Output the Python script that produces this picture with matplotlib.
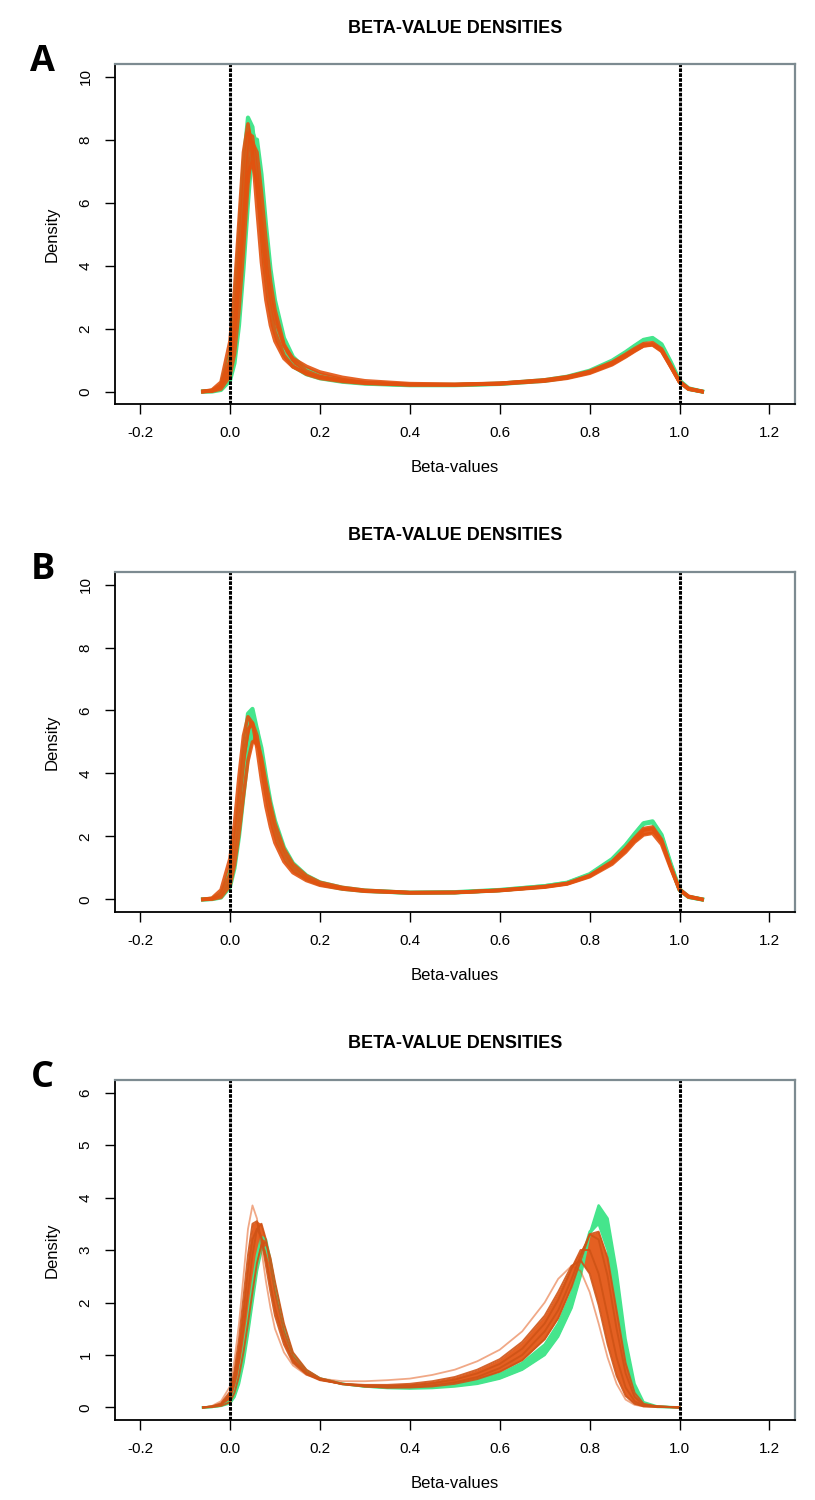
import numpy as np
import matplotlib
matplotlib.use("Agg")
import matplotlib.pyplot as plt

plt.rcParams["font.family"] = ["Liberation Sans", "DejaVu Sans"]

# -------- data --------
x_ab = [-0.06, -0.04, -0.02, 0.0, 0.01, 0.02, 0.03, 0.04, 0.05, 0.06, 0.07, 0.08,
        0.09, 0.10, 0.12, 0.14, 0.17, 0.20, 0.25, 0.30, 0.40, 0.50, 0.60, 0.70,
        0.75, 0.80, 0.85, 0.88, 0.90, 0.92, 0.94, 0.96, 0.98, 1.00, 1.02, 1.05]

# panel A
a_green_1 = [0, 0.02, 0.2, 1.2, 2.6, 4.8, 7.2, 8.7, 8.4, 7.0, 5.3, 3.8, 2.7, 2.0, 1.2, 0.8,
             0.55, 0.42, 0.31, 0.25, 0.2, 0.2, 0.24, 0.34, 0.45, 0.63, 0.95, 1.22, 1.42,
             1.62, 1.68, 1.45, 0.9, 0.32, 0.08, 0]
a_green_2 = [0, 0, 0.05, 0.35, 0.9, 2.1, 3.9, 6.0, 7.8, 8.0, 6.9, 5.3, 3.9, 2.9, 1.7, 1.1,
             0.68, 0.48, 0.34, 0.27, 0.21, 0.21, 0.25, 0.36, 0.47, 0.66, 0.98, 1.25, 1.45,
             1.64, 1.7, 1.5, 0.95, 0.35, 0.1, 0]
a_orange_1 = [0, 0.05, 0.3, 1.6, 3.2, 5.4, 7.6, 8.5, 7.6, 5.8, 4.1, 2.9, 2.1, 1.6, 1.05, 0.78,
              0.58, 0.46, 0.35, 0.28, 0.22, 0.21, 0.24, 0.33, 0.42, 0.58, 0.85, 1.1, 1.28,
              1.45, 1.5, 1.32, 0.85, 0.32, 0.1, 0]
a_orange_2 = [0, 0.02, 0.15, 0.9, 2.0, 4.0, 6.4, 8.2, 8.1, 6.9, 5.2, 3.7, 2.6, 1.9, 1.15, 0.8,
              0.55, 0.42, 0.32, 0.26, 0.21, 0.21, 0.25, 0.35, 0.45, 0.62, 0.9, 1.15, 1.32,
              1.48, 1.5, 1.3, 0.8, 0.3, 0.08, 0]
a_orange_3 = [0, 0.01, 0.08, 0.5, 1.2, 2.6, 4.5, 6.6, 7.9, 7.6, 6.3, 4.8, 3.5, 2.6, 1.5, 1.0,
              0.65, 0.48, 0.35, 0.28, 0.22, 0.22, 0.26, 0.37, 0.47, 0.64, 0.93, 1.18, 1.36,
              1.52, 1.55, 1.35, 0.82, 0.3, 0.08, 0]
a_orange_4 = [0, 0.03, 0.2, 1.0, 2.0, 3.6, 5.4, 6.9, 7.3, 6.6, 5.3, 4.0, 3.0, 2.3, 1.45, 1.05,
              0.8, 0.62, 0.45, 0.34, 0.25, 0.23, 0.26, 0.35, 0.44, 0.6, 0.88, 1.12, 1.3,
              1.45, 1.48, 1.28, 0.8, 0.3, 0.08, 0]

# panel B
b_green_1 = [0, 0.02, 0.18, 0.9, 1.8, 3.2, 4.7, 5.9, 6.05, 5.4, 4.4, 3.5, 2.75, 2.15, 1.4, 0.98,
             0.65, 0.48, 0.34, 0.27, 0.21, 0.23, 0.3, 0.42, 0.52, 0.78, 1.25, 1.7, 2.05,
             2.4, 2.45, 2.0, 1.1, 0.3, 0.08, 0]
b_green_2 = [0, 0.01, 0.06, 0.4, 1.0, 2.0, 3.3, 4.6, 5.4, 5.4, 4.8, 3.9, 3.1, 2.5, 1.65, 1.15,
             0.76, 0.54, 0.37, 0.28, 0.21, 0.22, 0.29, 0.42, 0.53, 0.8, 1.28, 1.72, 2.08,
             2.42, 2.48, 2.05, 1.15, 0.32, 0.08, 0]
b_orange_1 = [0, 0.04, 0.3, 1.3, 2.4, 3.9, 5.2, 5.8, 5.6, 4.8, 3.8, 2.95, 2.3, 1.8, 1.2, 0.85,
              0.6, 0.45, 0.33, 0.26, 0.21, 0.22, 0.29, 0.4, 0.5, 0.74, 1.18, 1.6, 1.92,
              2.2, 2.25, 1.85, 1.05, 0.32, 0.1, 0]
b_orange_2 = [0, 0.02, 0.15, 0.8, 1.7, 3.0, 4.4, 5.4, 5.6, 5.2, 4.3, 3.4, 2.7, 2.1, 1.4, 0.98,
              0.66, 0.48, 0.35, 0.27, 0.21, 0.22, 0.29, 0.41, 0.51, 0.76, 1.2, 1.62, 1.95,
              2.25, 2.3, 1.9, 1.05, 0.3, 0.08, 0]
b_orange_3 = [0, 0.01, 0.07, 0.45, 1.1, 2.1, 3.3, 4.4, 5.0, 5.05, 4.5, 3.7, 3.0, 2.4, 1.6, 1.12,
              0.75, 0.54, 0.38, 0.29, 0.22, 0.22, 0.28, 0.39, 0.49, 0.72, 1.12, 1.5, 1.82,
              2.05, 2.1, 1.75, 1.0, 0.3, 0.08, 0]

# panel C
x_c = [-0.06, -0.04, -0.02, 0.0, 0.01, 0.02, 0.03, 0.04, 0.05, 0.06, 0.07, 0.08, 0.09,
       0.10, 0.12, 0.14, 0.17, 0.20, 0.25, 0.30, 0.35, 0.40, 0.45, 0.50, 0.55, 0.60,
       0.65, 0.70, 0.73, 0.76, 0.78, 0.80, 0.82, 0.84, 0.86, 0.88, 0.90, 0.92, 0.95, 1.0]
c_green_1 = [0, 0.01, 0.03, 0.08, 0.2, 0.45, 0.85, 1.4, 2.0, 2.6, 3.0, 3.05, 2.75, 2.3, 1.5,
             1.0, 0.7, 0.55, 0.45, 0.4, 0.37, 0.36, 0.37, 0.4, 0.45, 0.55, 0.72, 1.0, 1.35,
             1.9, 2.5, 3.3, 3.85, 3.6, 2.6, 1.3, 0.45, 0.1, 0.02, 0]
c_green_2 = [0, 0.01, 0.04, 0.12, 0.3, 0.6, 1.1, 1.7, 2.35, 2.9, 3.25, 3.2, 2.8, 2.3, 1.5,
             1.0, 0.7, 0.55, 0.45, 0.4, 0.38, 0.38, 0.4, 0.44, 0.52, 0.64, 0.85, 1.2, 1.6,
             2.2, 2.75, 3.35, 3.5, 3.0, 2.0, 0.95, 0.3, 0.07, 0.01, 0]
c_orange_light = [0, 0.03, 0.12, 0.4, 0.9, 1.6, 2.5, 3.4, 3.85, 3.6, 3.0, 2.4, 1.9, 1.5, 1.05,
                  0.8, 0.62, 0.55, 0.5, 0.5, 0.52, 0.55, 0.62, 0.72, 0.88, 1.1, 1.45, 2.0,
                  2.45, 2.7, 2.6, 2.2, 1.6, 0.95, 0.45, 0.15, 0.05, 0.02, 0.01, 0]
c_orange_early = [0, 0.02, 0.08, 0.3, 0.7, 1.3, 2.1, 2.9, 3.5, 3.55, 3.2, 2.7, 2.2, 1.75, 1.2,
                  0.85, 0.63, 0.52, 0.45, 0.43, 0.43, 0.45, 0.5, 0.58, 0.72, 0.92, 1.25, 1.75,
                  2.2, 2.7, 2.8, 2.55, 1.95, 1.2, 0.6, 0.22, 0.07, 0.02, 0.01, 0]
c_orange_mid = [0, 0.02, 0.06, 0.25, 0.6, 1.1, 1.8, 2.6, 3.2, 3.4, 3.25, 2.85, 2.35, 1.9, 1.3,
                0.9, 0.65, 0.53, 0.45, 0.42, 0.41, 0.42, 0.46, 0.53, 0.65, 0.83, 1.12, 1.6,
                2.05, 2.65, 3.0, 3.0, 2.55, 1.75, 0.95, 0.38, 0.12, 0.03, 0.02, 0]
c_orange_main_1 = [0, 0.01, 0.05, 0.18, 0.45, 0.9, 1.5, 2.2, 2.9, 3.4, 3.5, 3.2, 2.7, 2.2, 1.45,
                   0.98, 0.68, 0.54, 0.44, 0.4, 0.38, 0.39, 0.42, 0.48, 0.58, 0.75, 1.0, 1.45,
                   1.85, 2.45, 2.9, 3.3, 3.2, 2.5, 1.5, 0.65, 0.2, 0.05, 0.02, 0]
c_orange_main_2 = [0, 0.01, 0.03, 0.1, 0.28, 0.6, 1.05, 1.6, 2.2, 2.75, 3.1, 3.15, 2.85, 2.4, 1.6,
                   1.05, 0.72, 0.56, 0.45, 0.4, 0.38, 0.38, 0.4, 0.45, 0.54, 0.68, 0.9, 1.3,
                   1.7, 2.3, 2.8, 3.3, 3.35, 2.85, 1.85, 0.85, 0.28, 0.07, 0.02, 0]

green = "#45e58c"
orange = "#e2520f"
orange_dark = "#cf5316"

panels = [
    ("A", x_ab, [a_green_1, a_green_2], [a_orange_1, a_orange_2, a_orange_3, a_orange_4], [],
     10, range(0, 11, 2), 0.9573),
    ("B", x_ab, [b_green_1, b_green_2], [b_orange_1, b_orange_2, b_orange_3], [],
     10, range(0, 11, 2), 0.6187),
    ("C", x_c, [c_green_1, c_green_2],
     [c_orange_early, c_orange_mid, c_orange_main_1, c_orange_main_2], [c_orange_light],
     6, range(0, 7), 0.28),
]

fig = plt.figure(figsize=(8.15, 15.0), dpi=100)
ax_h = 0.2267

for letter, xs, greens, oranges, pale, ymax, yticks, top in panels:
    ax = fig.add_axes([0.141, top - ax_h, 0.834, ax_h])
    lw = 2.6 if letter != "C" else 1.4

    # green samples underneath, orange band on top
    g_arr = np.array(greens)
    ax.fill_between(xs, g_arr.min(axis=0), g_arr.max(axis=0), color=green, lw=0)
    for g in greens:
        ax.plot(xs, g, color=green, lw=lw + 0.4, solid_joinstyle="round")

    for p in pale:
        ax.plot(xs, p, color=orange, lw=1.3, alpha=0.5, solid_joinstyle="round")

    o_arr = np.array(oranges)
    ax.fill_between(xs, o_arr.min(axis=0), o_arr.max(axis=0), color=orange,
                    alpha=0.92, lw=0)
    for o in oranges:
        ax.plot(xs, o, color=orange if letter != "C" else orange_dark, lw=lw,
                alpha=0.9, solid_joinstyle="round")

    ax.axvline(0, color="black", lw=2.2, ls=(0, (1.2, 0.4)))
    ax.axvline(1, color="black", lw=2.2, ls=(0, (1.2, 0.4)))

    ax.set_xlim(-0.256, 1.256)
    ax.set_ylim(-0.04 * ymax, 1.04 * ymax)
    ax.set_xticks([-0.2, 0.0, 0.2, 0.4, 0.6, 0.8, 1.0, 1.2])
    ax.set_xticklabels(["-0.2", "0.0", "0.2", "0.4", "0.6", "0.8", "1.0", "1.2"])
    ax.set_yticks(list(yticks))
    ax.tick_params(direction="out", length=7, width=1, labelsize=11, pad=9)
    for lab in ax.get_yticklabels():
        lab.set_rotation(90)
        lab.set_va("center")
    for side in ["left", "bottom"]:
        ax.spines[side].set_color("black")
        ax.spines[side].set_linewidth(1.3)
    for side in ["top", "right"]:
        ax.spines[side].set_color("#7d8b91")
        ax.spines[side].set_linewidth(1.6)

    ax.set_xlabel("Beta-values", fontsize=12, labelpad=14)
    ax.set_ylabel("Density", fontsize=12, labelpad=14)

    fig.text(0.5583, top + 36 / 1500, "BETA-VALUE DENSITIES", ha="center", va="center",
             fontsize=13, fontweight="bold")
    fig.text(0.052, top + 2 / 1500, letter, ha="center", va="center",
             fontsize=26, fontweight="bold", family=["Open Sans", "DejaVu Sans"])

plt.savefig("out.png", dpi=100)
